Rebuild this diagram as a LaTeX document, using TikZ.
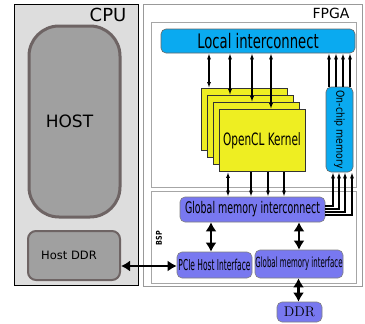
\documentclass[tikz,border=0pt]{standalone}
\usepackage{fontspec}
\setsansfont{DejaVu Sans}
\usepackage{graphicx}
\usepackage{tikz}
\usetikzlibrary{shapes,arrows,arrows.meta,backgrounds,positioning}
\definecolor{cpugray}{HTML}{DDDDDD}
\definecolor{hostfill}{HTML}{A0A0A0}
\definecolor{hostedge}{HTML}{6E6464}
\definecolor{chipcyan}{HTML}{0AAAF0}
\definecolor{chipblue}{HTML}{7878F0}
\definecolor{kernelyellow}{HTML}{EEEE22}
\newcommand{\squeeze}[2]{\scalebox{#1}[1]{#2}}
\tikzstyle{cpubox}=[rectangle, draw=black, fill=cpugray, line width=0.8pt, inner sep=0pt]
\tikzstyle{hostbox}=[rectangle, draw=hostedge, fill=hostfill, line width=3pt, rounded corners=30pt, inner sep=0pt, font=\sffamily\fontsize{17}{19}\selectfont]
\tikzstyle{ddrbox}=[rectangle, draw=hostedge, fill=hostfill, line width=2pt, rounded corners=8pt, inner sep=0pt, font=\sffamily\fontsize{11.5}{13}\selectfont]
\tikzstyle{fpgabox}=[rectangle, draw=black!40, fill=white, line width=1pt, inner sep=0pt]
\tikzstyle{regionbox}=[rectangle, draw=black!35, line width=0.8pt, inner sep=0pt]
\tikzstyle{cyanbox}=[rectangle, draw=black!60, fill=chipcyan, rounded corners=5pt, line width=0.6pt, inner sep=0pt]
\tikzstyle{bluebox}=[rectangle, draw=black!50, fill=chipblue, rounded corners=5pt, line width=0.6pt, inner sep=0pt]
\tikzstyle{kernelbox}=[rectangle, draw=black!80, fill=kernelyellow, line width=0.8pt, inner sep=0pt, minimum width=86pt, minimum height=62pt]
\tikzstyle{tag}=[inner sep=0pt, font=\sffamily]
\tikzstyle{link}=[-{Latex[length=6pt,width=4pt]}, line width=1.2pt]
\tikzstyle{link2}=[{Latex[length=6pt,width=4pt]}-{Latex[length=6pt,width=4pt]}, line width=1.2pt]
\tikzstyle{bus}=[{Latex[length=9pt,width=11pt]}-{Latex[length=9pt,width=11pt]}, line width=2.6pt]
\begin{document}
\begin{tikzpicture}[x=1pt,y=-1pt]
\useasboundingbox (0,0) rectangle (365,324);
%CPU side
\node[cpubox, minimum width=124pt, minimum height=281pt] (cpu) at (76,144.5){};
\node[tag, font=\sffamily\fontsize{18}{20}\selectfont] (cpulbl) at (108,15){CPU};
\node[hostbox, minimum width=91pt, minimum height=191pt] (host) at (74.5,121.5){HOST\hspace*{10pt}};
\node[ddrbox, minimum width=92pt, minimum height=49pt] (hostddr) at (74,255.5){Host DDR\hspace*{10pt}};
%FPGA side
\node[fpgabox, minimum width=219pt, minimum height=282pt] (fpga) at (252.5,145){};
\node[tag, font=\sffamily\fontsize{14}{16}\selectfont] (fpgalbl) at (331,13){FPGA};
\node[regionbox, minimum width=205pt, minimum height=165pt] (kregion) at (253.5,104.5){};
\node[regionbox, minimum width=205pt, minimum height=92pt] (bsp) at (253.5,237){};
\node[tag, rotate=90, font=\sffamily\bfseries\fontsize{8}{9}\selectfont] (bsplbl) at (159,238){\squeeze{0.8}{BSP}};
%Row One
\node[cyanbox, minimum width=194pt, minimum height=24pt, font=\sffamily\fontsize{20}{22}\selectfont] (local) at (258,41){\squeeze{0.66}{Local interconnect}};
\node[cyanbox, rotate=-90, minimum width=85pt, minimum height=27pt, font=\sffamily\fontsize{11}{12}\selectfont] (mem) at (339.5,129.5){\squeeze{0.85}{On-chip memory}};
\node[kernelbox] (k1) at (244,119.5){};
\node[kernelbox] (k2) at (250,126.5){};
\node[kernelbox] (k3) at (256,133.5){};
\node[kernelbox, font=\sffamily\fontsize{17}{19}\selectfont] (k4) at (262,140.5){\squeeze{0.62}{OpenCL Kernel}};
%Row Two
\node[bluebox, minimum width=145pt, minimum height=25pt, font=\sffamily\fontsize{16}{18}\selectfont] (gmi) at (252.5,209.5){\squeeze{0.59}{Global memory interconnect}};
\node[bluebox, minimum width=75pt, minimum height=26pt, font=\sffamily\fontsize{15}{17}\selectfont] (pcie) at (214.5,265){\squeeze{0.5}{PCIe Host Interface}};
\node[bluebox, minimum width=88pt, minimum height=28pt, font=\sffamily\fontsize{14}{16}\selectfont] (gmif) at (299,264){\squeeze{0.5}{Global memory interface}};
\node[bluebox, minimum width=45pt, minimum height=20pt, font=\rmfamily\fontsize{14}{16}\selectfont] (ddr) at (299.5,312){DDR};
%Arrows
\draw[link2] (local.south -| 209,0) -- (k1.north -| 209,0);
\draw[link2] (local.south -| 230,0) -- (k2.north -| 230,0);
\draw[link2] (local.south -| 252,0) -- (k3.north -| 252,0);
\draw[link2] (local.south -| 271,0) -- (k4.north -| 271,0);
\draw[link] (mem.west -| 329,0) -- (local.south -| 329,0);
\draw[link] (mem.west -| 336,0) -- (local.south -| 336,0);
\draw[link] (mem.west -| 343,0) -- (local.south -| 343,0);
\draw[link] (mem.west -| 350,0) -- (local.south -| 350,0);
\draw[link2] (k4.south -| 228,0) -- (gmi.north -| 228,0);
\draw[link] (k4.south -| 251,0) -- (gmi.north -| 251,0);
\draw[link] (k4.south -| 268,0) -- (gmi.north -| 268,0);
\draw[link] (k4.south -| 284,0) -- (gmi.north -| 284,0);
\draw[link] (gmi.east |- 0,206) -| (mem.east -| 333,0);
\draw[link] (gmi.east |- 0,209) -| (mem.east -| 339,0);
\draw[link] (gmi.east |- 0,212) -| (mem.east -| 345,0);
\draw[link] (gmi.east |- 0,215) -| (mem.east -| 352,0);
\draw[bus] (gmi.south -| 211,0) -- (pcie.north -| 211,0);
\draw[bus] (gmi.south -| 299,0) -- (gmif.north);
\draw[bus] (gmif.south -| 298.5,0) -- (ddr.north -| 298.5,0);
\draw[bus] (hostddr.east |- 0,266) -- (pcie.west |- 0,266);
\end{tikzpicture}
\end{document}
